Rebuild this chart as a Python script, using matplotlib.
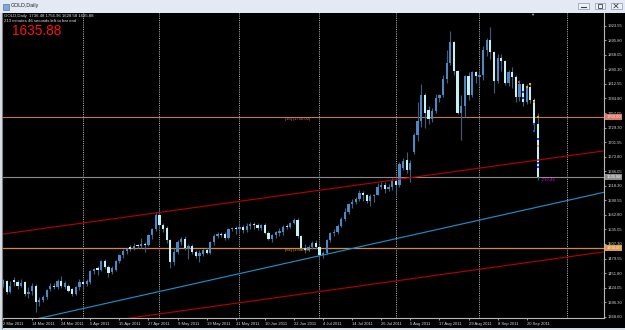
import matplotlib
matplotlib.use('Agg')
import matplotlib.pyplot as plt
import matplotlib.transforms as mtransforms
from matplotlib.patches import Rectangle
from matplotlib.lines import Line2D

plt.rcParams['font.family'] = ['Liberation Sans', 'DejaVu Sans']

# ---------------- data (GOLD daily, 2 Mar 2011 .. 23 Sep 2011) ----------------
opens = [1430, 1436, 1415, 1439, 1435, 1428, 1434, 1412, 1417, 1428,
         1396, 1401, 1406, 1421, 1428, 1425, 1437, 1426, 1428, 1421,
         1412, 1425, 1434, 1431, 1434, 1455, 1461, 1458, 1474, 1463,
         1453, 1458, 1474, 1486, 1493, 1501, 1498, 1505, 1503, 1508,
         1506, 1525, 1536, 1563, 1544, 1537, 1515, 1472, 1492, 1512,
         1516, 1497, 1503, 1492, 1485, 1488, 1496, 1491, 1511, 1523,
         1527, 1526, 1519, 1536, 1538, 1536, 1540, 1533, 1542, 1545,
         1543, 1538, 1543, 1529, 1516, 1524, 1529, 1531, 1541, 1539,
         1548, 1553, 1522, 1500, 1496, 1501, 1510, 1502, 1486, 1491,
         1515, 1529, 1531, 1542, 1555, 1568, 1583, 1588, 1593, 1604,
         1600, 1590, 1598, 1601, 1615, 1620, 1613, 1616, 1627, 1620,
         1652, 1668, 1648, 1682, 1716, 1742, 1791, 1762, 1745, 1761,
         1786, 1791, 1822, 1852, 1893, 1837, 1757, 1770, 1827, 1791,
         1835, 1826, 1829, 1877, 1896, 1873, 1818, 1862, 1856, 1815,
         1835, 1825, 1788, 1812, 1779, 1806, 1782, 1736.48]
highs = [1440, 1438, 1436, 1445, 1438, 1440, 1437, 1425, 1432, 1430,
         1406, 1410, 1421, 1432, 1432, 1440, 1447, 1437, 1431, 1424,
         1428, 1440, 1438, 1440, 1458, 1462, 1465, 1476, 1478, 1467,
         1466, 1476, 1488, 1497, 1500, 1505, 1509, 1508, 1519, 1511,
         1527, 1538, 1568, 1576, 1547, 1542, 1517, 1500, 1515, 1520,
         1522, 1508, 1508, 1496, 1495, 1498, 1500, 1513, 1526, 1530,
         1531, 1530, 1538, 1540, 1542, 1545, 1543, 1547, 1549, 1550,
         1547, 1546, 1548, 1532, 1526, 1532, 1537, 1543, 1546, 1550,
         1556, 1556, 1525, 1507, 1506, 1513, 1514, 1505, 1494, 1517,
         1531, 1536, 1545, 1559, 1575, 1585, 1594, 1597, 1610, 1609,
         1603, 1602, 1603, 1623, 1625, 1625, 1622, 1633, 1633, 1663,
         1672, 1682, 1668, 1719, 1778, 1813, 1796, 1770, 1766, 1794,
         1793, 1830, 1877, 1913, 1895, 1840, 1792, 1830, 1835, 1838,
         1837, 1835, 1884, 1900, 1921, 1875, 1870, 1870, 1859, 1840,
         1845, 1830, 1820, 1815, 1813, 1815, 1785, 1756.96]
lows = [1426, 1412, 1413, 1428, 1422, 1425, 1408, 1404, 1410, 1378,
        1389, 1396, 1402, 1418, 1421, 1422, 1424, 1421, 1415, 1408,
        1410, 1420, 1419, 1427, 1430, 1450, 1449, 1455, 1460, 1445,
        1450, 1455, 1471, 1480, 1489, 1494, 1496, 1500, 1500, 1492,
        1503, 1517, 1532, 1536, 1530, 1510, 1462, 1468, 1488, 1506,
        1495, 1479, 1488, 1480, 1473, 1485, 1488, 1489, 1505, 1518,
        1520, 1515, 1517, 1532, 1527, 1531, 1528, 1530, 1536, 1536,
        1533, 1533, 1526, 1514, 1512, 1518, 1522, 1525, 1536, 1537,
        1545, 1518, 1495, 1490, 1493, 1497, 1498, 1478, 1480, 1488,
        1512, 1523, 1527, 1540, 1552, 1565, 1576, 1583, 1590, 1590,
        1585, 1580, 1588, 1600, 1612, 1605, 1608, 1610, 1603, 1615,
        1648, 1642, 1625, 1678, 1703, 1730, 1728, 1736, 1740, 1757,
        1778, 1787, 1815, 1848, 1829, 1755, 1705, 1750, 1781, 1787,
        1815, 1808, 1820, 1865, 1861, 1795, 1815, 1838, 1810, 1808,
        1805, 1779, 1780, 1771, 1775, 1777, 1725, 1628.58]
closes = [1438, 1415, 1428, 1435, 1428, 1433, 1412, 1416, 1428, 1397,
          1401, 1407, 1419, 1428, 1425, 1437, 1427, 1432, 1418, 1411,
          1425, 1434, 1431, 1437, 1455, 1460, 1457, 1474, 1463, 1452,
          1461, 1474, 1486, 1493, 1498, 1497, 1504, 1503, 1508, 1506,
          1525, 1536, 1563, 1544, 1535, 1515, 1472, 1492, 1512, 1516,
          1500, 1503, 1492, 1485, 1490, 1496, 1491, 1511, 1523, 1526,
          1524, 1519, 1536, 1538, 1536, 1540, 1533, 1542, 1545, 1543,
          1538, 1543, 1529, 1516, 1524, 1530, 1532, 1540, 1539, 1548,
          1553, 1522, 1500, 1496, 1501, 1510, 1502, 1486, 1491, 1515,
          1529, 1531, 1542, 1555, 1568, 1583, 1588, 1593, 1604, 1600,
          1590, 1598, 1601, 1615, 1620, 1613, 1616, 1628, 1620, 1659,
          1665, 1648, 1662, 1716, 1741, 1791, 1758, 1745, 1761, 1786,
          1791, 1822, 1852, 1893, 1837, 1757, 1770, 1827, 1791, 1835,
          1827, 1829, 1877, 1896, 1873, 1818, 1862, 1856, 1815, 1835,
          1825, 1788, 1812, 1779, 1806, 1782, 1737, 1635.88]

date_labels = ['2 Mar 2011', '14 Mar 2011', '24 Mar 2011', '5 Apr 2011',
               '15 Apr 2011', '27 Apr 2011', '9 May 2011', '19 May 2011',
               '31 May 2011', '10 Jun 2011', '22 Jun 2011', '4 Jul 2011',
               '14 Jul 2011', '26 Jul 2011', '5 Aug 2011', '17 Aug 2011',
               '29 Aug 2011', '8 Sep 2011', '20 Sep 2011']
date_label_bars = [0, 8, 16, 24, 32, 40, 48, 56, 64, 72, 80, 88, 96, 104,
                   112, 120, 128, 136, 144]
month_grid_bars = [22, 43, 65, 87, 108, 131, 155]

price_ticks = [1368.60, 1396.30, 1424.05, 1451.80, 1479.55, 1507.30, 1535.05,
               1562.80, 1590.55, 1618.30, 1646.05, 1673.80, 1701.55, 1729.30,
               1757.05, 1784.80, 1812.55, 1840.30, 1868.05, 1895.80, 1923.55]

# trend lines: (bar, price) end points
upper_channel = ([0, 165], [1526.2, 1684.6])
lower_channel = ([0, 165], [1332.2, 1492.0])
blue_trend = ([0, 165.2], [1350.1, 1605.8])

level_high = 1750.00
level_low = 1500.00
bid_price = 1635.88
bar_ohlc_text = 'GOLD,Daily  1736.48 1756.96 1628.58 1635.88'
timer_text = '213 minutes 46 seconds left to bar end'

orange_mark_bars = [144, 145, 146, 147, 147]
orange_mark_prices = [1807, 1812, 1779, 1750, 1694]
blue_mark_bars = [143, 143, 146, 146, 147, 147, 147]
blue_mark_prices = [1797, 1786, 1737, 1722, 1708, 1662, 1655]
red_mark_bars = [142]
red_mark_prices = [1817]

# ---------------- figure ----------------
W, H = 625, 330
fig = plt.figure(figsize=(6.25, 3.3), dpi=100, facecolor='black')


def fx(px):
    return px / W


def fy(py):
    return 1 - py / H


ax = fig.add_axes([fx(3), fy(318), 601 / W, 305 / H])
ax.set_facecolor('black')

bar_px = 3.64
x0 = (3 - 2.5) / bar_px
ax.set_xlim(x0, x0 + 601 / bar_px)
ax.set_ylim(1366.1, 1947.8)

bull_col = '#4A88C8'
bear_col = '#C2F3F3'
wick_col = '#3F5E7A'

n = len(closes)
xs = list(range(n))
ax.vlines(xs, lows, highs, color=wick_col, lw=0.8, zorder=3)
bottoms = [min(o, c) for o, c in zip(opens, closes)]
heights = [max(abs(c - o), 1.2) for o, c in zip(opens, closes)]
cols = [bull_col if c >= o else bear_col for o, c in zip(opens, closes)]
ax.bar(xs, heights, bottom=bottoms, width=0.62, color=cols, lw=0, zorder=4)

# vertical dotted grid at month starts
for b in month_grid_bars:
    ax.axvline(b, color='#C0C0C0', lw=0.7, ls=(0, (1, 1.3)), zorder=1)

# horizontal levels
ax.axhline(level_high, color='#C8705E', lw=0.8, zorder=2)
ax.axhline(level_low, color='#D08A48', lw=0.9, zorder=2)
ax.axhline(bid_price, color='#8C8C8C', lw=0.8, zorder=2)

# trend lines
ax.plot(*upper_channel, color='#B00000', lw=0.85, zorder=5)
ax.plot(*lower_channel, color='#B00000', lw=0.85, zorder=5)
ax.plot(*blue_trend, color='#1E8CC0', lw=0.85, zorder=5)

# trade markers
ax.scatter(orange_mark_bars, orange_mark_prices, s=3, marker='s', color='#FFA500', lw=0, zorder=7)
ax.scatter(blue_mark_bars, blue_mark_prices, s=3, marker='s', color='#2040FF', lw=0, zorder=7)
ax.scatter(red_mark_bars, red_mark_prices, s=4, marker='s', color='#FF2020', lw=0, zorder=7)

# level descriptions
ax.text(77.5, level_high - 1.5, '[16] (1750.00)', color='#D07A66', fontsize=3.0,
        va='top', ha='left', zorder=6)
ax.text(77.5, level_low - 1.0, '[64] (1500.00)', color='#D08A48', fontsize=3.0,
        va='top', ha='left', zorder=6)
ax.text(148, bid_price - 2.0, '-210.46', color='#E000E0', fontsize=3.2,
        va='top', ha='left', zorder=6)

# axes styling
for s in ['top', 'left']:
    ax.spines[s].set_visible(False)
for s in ['right', 'bottom']:
    ax.spines[s].set_color('#B8B8B8')
    ax.spines[s].set_linewidth(0.8)

ax.yaxis.tick_right()
ax.set_yticks(price_ticks)
ax.set_yticklabels(['%.2f' % v for v in price_ticks])
ax.tick_params(axis='y', colors='#B8B8B8', labelcolor='#D8D8D8', labelsize=3.0,
               length=1.5, width=0.6, pad=1)
ax.set_xticks(date_label_bars)
ax.set_xticklabels(date_labels)
ax.tick_params(axis='x', colors='#B8B8B8', labelcolor='#D8D8D8', labelsize=3.0,
               length=1.5, width=0.6, pad=1.5)
for lab in ax.get_xticklabels():
    lab.set_horizontalalignment('left')

# highlighted price boxes on the price scale
trans = mtransforms.blended_transform_factory(ax.transAxes, ax.transData)
for val, bg, fg in [(level_high, '#D87A66', '#FFE8E0'),
                    (bid_price, '#8C8C8C', '#FFFFFF'),
                    (level_low, '#E09A50', '#FFF0D0')]:
    ax.text(1.004, val, '%.2f' % val, transform=trans, fontsize=3.0, color=fg,
            va='center', ha='left', clip_on=False, zorder=10,
            bbox=dict(boxstyle='square,pad=0.25', fc=bg, ec='none'))

# chart shift marker
ax.text(145.5, 1944, '\u25bc', color='#B0B0B0', fontsize=3, ha='center', va='center')

# header texts
fig.text(fx(4), fy(15.7), bar_ohlc_text, color='#E0E0E0', fontsize=3.1, va='center', ha='left')
fig.text(fx(4), fy(21), timer_text, color='#E0E0E0', fontsize=3.1, va='center', ha='left')
fig.text(fx(12), fy(31), '%.2f' % bid_price, color='#FF1010', fontsize=9.8, va='center', ha='left')

# window frame
fig.patches.append(Rectangle((0, fy(12.5)), 1, 12.5 / H, transform=fig.transFigure,
                             fc='#E4EAF3', ec='none', zorder=0))
fig.patches.append(Rectangle((0, 0), 1, 2.5 / H, transform=fig.transFigure,
                             fc='#D4E0EE', ec='none', zorder=0))
fig.patches.append(Rectangle((0, 0), 2 / W, fy(12.5), transform=fig.transFigure,
                             fc='#D8DEE8', ec='none', zorder=0))
fig.lines.append(Line2D([fx(2.3), fx(2.3)], [fy(13), fy(327.5)], transform=fig.transFigure,
                        color='#808080', lw=0.8))
fig.patches.append(Rectangle((fx(2.5), fy(10)), 6 / W, 6 / H, transform=fig.transFigure,
                             fc='#7FA8D8', ec='#3A5F9A', lw=0.4))
fig.text(fx(11), fy(6), 'GOLD,Daily', color='#202020', fontsize=3.8, va='center', ha='left')
for bx in [578, 594.5, 611]:
    fig.patches.append(Rectangle((fx(bx), fy(9)), 10.5 / W, 6.5 / H, transform=fig.transFigure,
                                 fc='#EEF2F8', ec='#8898B0', lw=0.5))
fig.lines.append(Line2D([fx(581), fx(586)], [fy(7.3), fy(7.3)], transform=fig.transFigure,
                        color='#404040', lw=0.8))
fig.patches.append(Rectangle((fx(597.5), fy(7.8)), 4.5 / W, 4 / H, transform=fig.transFigure,
                             fc='none', ec='#404040', lw=0.6))
fig.lines.append(Line2D([fx(614), fx(618)], [fy(4), fy(7.8)], transform=fig.transFigure,
                        color='#404040', lw=0.6))
fig.lines.append(Line2D([fx(614), fx(618)], [fy(7.8), fy(4)], transform=fig.transFigure,
                        color='#404040', lw=0.6))

fig.savefig('out.png', dpi=100, facecolor=fig.get_facecolor())
